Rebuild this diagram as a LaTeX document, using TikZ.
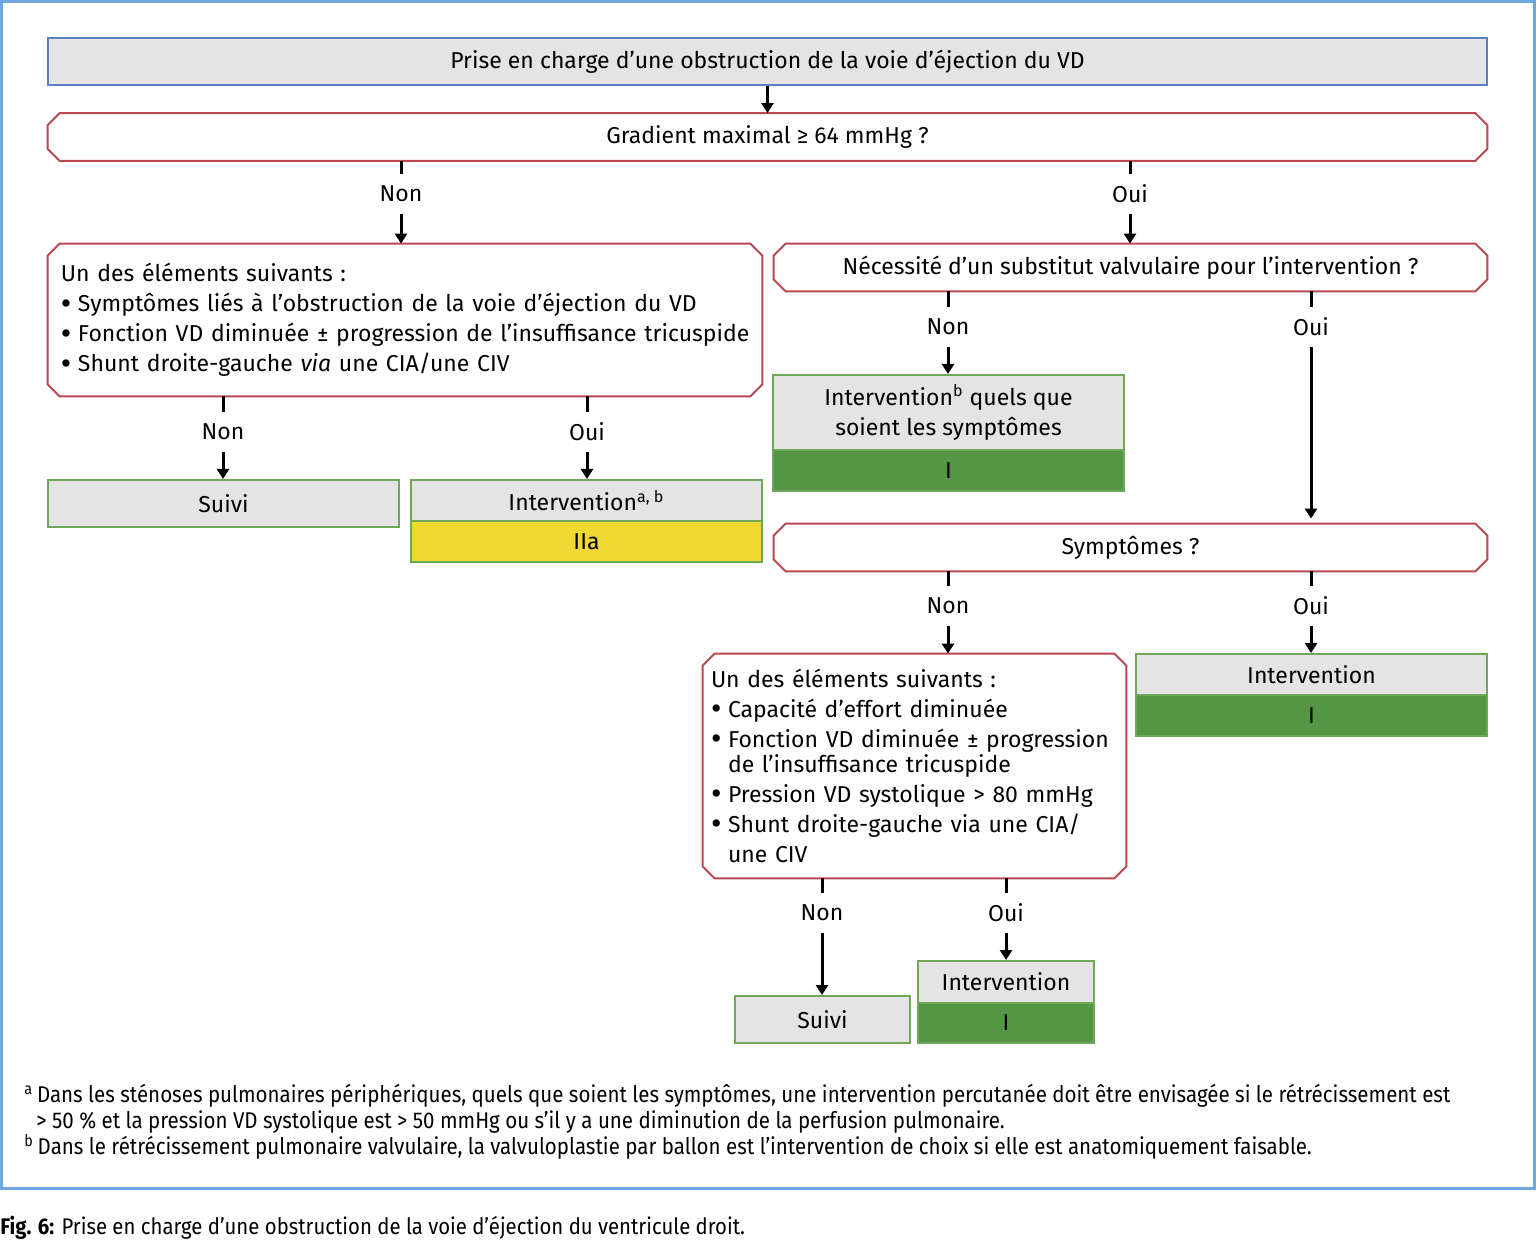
\documentclass[tikz,border=0pt]{standalone}
\usepackage{fontspec}
\usepackage{graphicx}
\setmainfont{Fira Sans}
\newfontfamily\notefont{Fira Sans}[FakeStretch=0.9]
\usetikzlibrary{positioning,calc,arrows.meta}
\definecolor{framecol}{RGB}{111,168,224}
\definecolor{titleborder}{RGB}{90,128,194}
\definecolor{boxgray}{RGB}{228,228,228}
\definecolor{askred}{RGB}{185,72,80}
\definecolor{suivigreen}{RGB}{112,168,90}
\definecolor{classgreen}{RGB}{85,149,70}
\definecolor{classyellow}{RGB}{241,217,52}
\newcommand{\chamfer}[1]{\draw[askred, line width=1pt] ([xshift=6pt]#1.north west) -- ([xshift=-6pt]#1.north east) -- ([yshift=-6pt]#1.north east) -- ([yshift=6pt]#1.south east) -- ([xshift=-6pt]#1.south east) -- ([xshift=6pt]#1.south west) -- ([yshift=6pt]#1.south west) -- ([yshift=-6pt]#1.north west) -- cycle;}
\newcommand{\puce}{\makebox[8.5pt][l]{\raisebox{-1.2pt}{\scalebox{1.4}{•}}}}

\begin{document}
\begin{tikzpicture}[x=0.5pt,y=-0.5pt,
                every node/.style={font=\fontsize{11.5}{12.5}\selectfont, inner sep=0pt},
                title node/.style={draw=titleborder, fill=boxgray, line width=1pt, minimum height=23.5pt},
                ask node/.style={minimum height=23.5pt},
                grey node/.style={draw=suivigreen, fill=boxgray, line width=1pt},
                class node/.style={draw=suivigreen, line width=1pt, minimum height=20.5pt},
                answer/.style={minimum height=20pt},
                stub/.style={line width=1.5pt},
                arrowline/.style={-{Triangle[length=5pt,width=6pt]}, line width=1.5pt},
                note/.style={anchor=base west, font=\notefont\fontsize{11.4}{12}\selectfont}]
\useasboundingbox[fill=white] (0,0) rectangle (1536,1240);
\draw[framecol, line width=1.5pt] (1.5,1.5) rectangle (1534.5,1188);
%Nodes
    \node[title node, minimum width=719.5pt] (title) at (767.5,61.5) {Prise en charge d’une obstruction de la voie d’éjection du VD};
    \node[ask node, minimum width=719.5pt] (gradient) at (767.5,137) {Gradient maximal ≥ 64 mmHg ?};
    \node[answer] (nonA) at (401,194) {Non};
    \node[answer] (ouiA) at (1130,194) {Oui};
    \node[ask node, minimum width=357pt, minimum height=76pt, text width=344pt, align=left] (leftlist) at (405,320)
        {Un des éléments suivants :\\[2.5pt]
         \mbox{\puce Symptômes liés à l’obstruction de la voie d’éjection du VD}\\[2.5pt]
         \mbox{\puce Fonction VD diminuée ± progression de l’insuffisance tricuspide}\\[2.5pt]
         \mbox{\puce Shunt droite-gauche \emph{via} une CIA/une CIV}};
    \node[ask node, minimum width=356.5pt] (substitut) at (1130.5,267.5) {Nécessité d’un substitut valvulaire pour l’intervention ?};
    \node[answer] (nonB) at (223,432) {Non};
    \node[answer] (ouiB) at (587,432) {Oui};
    \node[grey node, minimum width=175.5pt, minimum height=23.5pt] (suiviA) at (223.5,503.5) {Suivi};
    \node[grey node, minimum width=175.5pt, minimum height=20.5pt] (interA) at (586.5,500.5) {Intervention\textsuperscript{a, b}};
    \node[class node, fill=classyellow, minimum width=175.5pt] (classA) at (586.5,541.5) {IIa};
    \node[answer] (nonC) at (948,327) {Non};
    \node[answer] (ouiC) at (1311,327) {Oui};
    \node[grey node, minimum width=175.5pt, minimum height=37.5pt, align=center] (interB) at (948.5,412.5)
        {Intervention\textsuperscript{b} quels que\\[2.5pt] soient les symptômes};
    \node[class node, fill=classgreen, minimum width=175.5pt] (classB) at (948.5,470.5) {I};
    \node[ask node, minimum width=356.5pt] (symptomes) at (1130.5,547.5) {Symptômes ?};
    \node[answer] (nonD) at (948,606) {Non};
    \node[answer] (ouiD) at (1311,606) {Oui};
    \node[ask node, minimum width=211.5pt, minimum height=112pt, text width=203.5pt, align=left] (rightlist) at (914.5,766)
        {Un des éléments suivants :\\[2.5pt]
         \puce Capacité d’effort diminuée\\[2.5pt]
         \mbox{\puce Fonction VD diminuée ± progression}\\
         \mbox{\hspace{8.5pt}de l’insuffisance tricuspide}\\[2.5pt]
         \mbox{\puce Pression VD systolique > 80 mmHg}\\[2.5pt]
         \mbox{\puce Shunt droite-gauche via une CIA/}\\[2.5pt]
         \mbox{\hspace{8.5pt}une CIV}};
    \node[grey node, minimum width=175.5pt, minimum height=20.5pt] (interC) at (1311.5,674.5) {Intervention};
    \node[class node, fill=classgreen, minimum width=175.5pt] (classC) at (1311.5,715.5) {I};
    \node[answer] (nonE) at (822,913) {Non};
    \node[answer] (ouiE) at (1006,913) {Oui};
    \node[grey node, minimum width=87.5pt, minimum height=23.5pt] (suiviB) at (822.5,1019.5) {Suivi};
    \node[grey node, minimum width=88pt, minimum height=21pt] (interD) at (1006,982) {Intervention};
    \node[class node, fill=classgreen, minimum width=88pt, minimum height=20pt] (classD) at (1006,1023) {I};
%Outlines of the questions
    \chamfer{gradient}
    \chamfer{leftlist}
    \chamfer{substitut}
    \chamfer{symptomes}
    \chamfer{rightlist}
%Connectors
    \draw[arrowline] (title) -- (gradient);
    \draw[stub] (gradient.south -| nonA) -- (nonA);
    \draw[arrowline] (nonA) -- (nonA |- leftlist.north);
    \draw[stub] (gradient.south -| ouiA) -- (ouiA);
    \draw[arrowline] (ouiA) -- (ouiA |- substitut.north);
    \draw[stub] (leftlist.south -| nonB) -- (nonB);
    \draw[arrowline] (nonB) -- (nonB |- suiviA.north);
    \draw[stub] (leftlist.south -| ouiB) -- (ouiB);
    \draw[arrowline] (ouiB) -- (ouiB |- interA.north);
    \draw[stub] (substitut.south -| nonC) -- (nonC);
    \draw[arrowline] (nonC) -- (nonC |- interB.north);
    \draw[stub] (substitut.south -| ouiC) -- (ouiC);
    \draw[arrowline] (ouiC) -- ([yshift=2.5pt]ouiC |- symptomes.north);
    \draw[stub] (symptomes.south -| nonD) -- (nonD);
    \draw[arrowline] (nonD) -- (nonD |- rightlist.north);
    \draw[stub] (symptomes.south -| ouiD) -- (ouiD);
    \draw[arrowline] (ouiD) -- (ouiD |- interC.north);
    \draw[stub] (rightlist.south -| nonE) -- (nonE);
    \draw[arrowline] (nonE) -- (nonE |- suiviB.north);
    \draw[stub] (rightlist.south -| ouiE) -- (ouiE);
    \draw[arrowline] (ouiE) -- (ouiE |- interD.north);
%Notes
    \node[note] (noteA) at (24,1102) {\textsuperscript{a}\,Dans les sténoses pulmonaires périphériques, quels que soient les symptômes, une intervention percutanée doit être envisagée si le rétrécissement est};
    \node[note] (noteA2) at (36,1128) {> 50 \% et la pression VD systolique est > 50 mmHg ou s’il y a une diminution de la perfusion pulmonaire.};
    \node[note] (noteB) at (24,1154) {\textsuperscript{b}\,Dans le rétrécissement pulmonaire valvulaire, la valvuloplastie par ballon est l’intervention de choix si elle est anatomiquement faisable.};
    \node[note, font=\notefont\fontsize{11.3}{12}\selectfont] (caption) at (0,1234) {\textbf{Fig. 6:} Prise en charge d’une obstruction de la voie d’éjection du ventricule droit.};
\end{tikzpicture}
\end{document}
